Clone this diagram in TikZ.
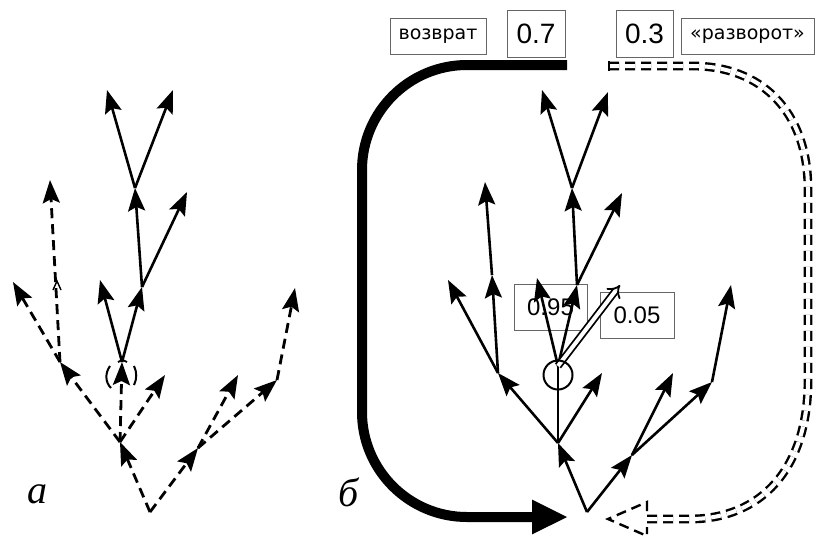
\documentclass[tikz,border=0pt]{standalone}
\usepackage{fontspec}
\usetikzlibrary{arrows.meta}
\newfontfamily\wordfont{DejaVu Sans}
\newfontfamily\digitfont{Liberation Sans}
\newfontfamily\letterfont{Liberation Serif}

\begin{document}
\begin{tikzpicture}[x=1pt,y=-1pt,
  tip/.style={-{Stealth[length=23pt,width=17pt,inset=4pt]}},
  br/.style={line width=2.6pt, tip},
  stem/.style={line width=2.6pt},
  dbr/.style={line width=2.8pt, dash pattern=on 10pt off 6pt, tip},
  tag/.style={draw=black!60, line width=0.9pt, inner sep=0pt},
  wordtag/.style={tag, minimum height=36pt, font=\wordfont\fontsize{19}{19}\selectfont},
  bignum/.style={tag, minimum height=47pt, font=\digitfont\fontsize{28}{28}\selectfont},
  smallnum/.style={tag, minimum height=46pt, font=\digitfont\fontsize{24}{24}\selectfont},
  panel/.style={font=\letterfont\itshape\fontsize{40}{40}\selectfont}
]
\useasboundingbox (0,0) rectangle (818,536);

% ---------- panel a: tree of moves ----------
\coordinate (a0) at (150,512);
\coordinate (a1) at (120,442);
\coordinate (a2) at (198,448);
\coordinate (b1) at (60,362);
\coordinate (b2) at (13,282);
\coordinate (b3) at (50,180);
\coordinate (c)  at (122,362);
\coordinate (c2) at (165,375);
\coordinate (c3) at (100,280);
\coordinate (d)  at (142,287);
\coordinate (d2) at (187,192);
\coordinate (e)  at (135,188);
\coordinate (e1) at (107,90);
\coordinate (e2) at (173,90);
\coordinate (f1) at (238,375);
\coordinate (f2) at (277,380);
\coordinate (f3) at (295,288);

\draw[dbr] (a0) -- (a1);
\draw[dbr] (a0) -- (a2);
\draw[dbr] (a1) -- (b1);
\draw[dbr] (b1) -- (b2);
\draw[dbr] (b1) -- (b3);
\draw[line width=1.4pt] (53,290) -- (57,281) -- (61,290);
\draw[dbr] (a1) -- (c);
\draw[dbr] (a1) -- (c2);
\draw[br] (c) -- (c3);
\draw[br] (c) -- (d);
\draw[br] (d) -- (e);
\draw[br] (d) -- (d2);
\draw[br] (e) -- (e1);
\draw[br] (e) -- (e2);
\draw[dbr] (a2) -- (f1);
\draw[dbr] (a2) -- (f2);
\draw[dbr] (f2) -- (f3);
% broken ring round the branching point
\draw[line width=2pt] (110,366) .. controls (105,373) and (105,382) .. (111,388);
\draw[line width=2pt] (134,366) .. controls (137,372) and (137,379) .. (134,385);
\draw[line width=1.8pt] (118,362) .. controls (121,360) and (124,360) .. (127,362);

\node[panel] (la) at (37,494) {а};

% ---------- panel b: tree with return ----------
\coordinate (r0) at (587,512);
\coordinate (r1) at (558,443);
\coordinate (r2) at (632,455);
\coordinate (s)  at (498,373);
\coordinate (s2) at (492,275);
\coordinate (s3) at (485,182);
\coordinate (s4) at (448,280);
\coordinate (o)  at (558,366);
\coordinate (o1) at (537,278);
\coordinate (t)  at (577,285);
\coordinate (o3) at (620,285);
\coordinate (p2) at (602,373);
\coordinate (u)  at (572,188);
\coordinate (t2) at (622,193);
\coordinate (u1) at (542,90);
\coordinate (u2) at (608,92);
\coordinate (q1) at (673,373);
\coordinate (w)  at (712,382);
\coordinate (w1) at (731,285);

\node[smallnum, minimum width=73pt] (p95) at (550.5,307.5) {0.95};
\node[smallnum, minimum width=74pt] (p05) at (637,315) {0.05};

\draw[br] (r0) -- (r1);
\draw[br] (r0) -- (r2);
\draw[br] (r1) -- (s);
\draw[stem] (r1) -- (o);
\draw[br] (r1) -- (p2);
\draw[br] (s) -- (s2);
\draw[br] (s2) -- (s3);
\draw[br] (s) -- (s4);
\draw[br] (o) -- (o1);
\draw[br] (o) -- (t);
\draw[line width=1.8pt, double, double distance=4pt, -{Implies}] (o) -- (o3);
\draw[br] (t) -- (u);
\draw[br] (t) -- (t2);
\draw[br] (u) -- (u1);
\draw[br] (u) -- (u2);
\draw[br] (r2) -- (q1);
\draw[br] (r2) -- (w);
\draw[br] (w) -- (w1);
\node[draw, circle, line width=2pt, minimum size=29pt, inner sep=0pt] (ring) at (558,375) {};

% return path, probability 0.7
\coordinate (g0) at (567,65);
\coordinate (g1) at (568,517);
\draw[line width=10pt, -{Triangle[length=36pt,width=32pt]}]
  (g0) -- (467,65) .. controls (409,65) and (362,112) .. (362,170)
  -- (362,412) .. controls (362,470) and (409,517) .. (467,517) -- (g1);

% turn-around path, probability 0.3
\coordinate (h0) at (609,66);
\coordinate (h1) at (647,519);
\coordinate (h2) at (608,519);
\draw[line width=2.4pt, dash pattern=on 10pt off 6pt, double, double distance=4pt]
  (h0) -- (693,66) .. controls (760,66) and (808,110) .. (808,190)
  -- (808,380) .. controls (808,470) and (760,519) .. (690,519) -- (h1);
\draw[line width=2.4pt] (609,61) -- (609,71);
\draw[line width=2.4pt, dash pattern=on 10pt off 6pt]
  (647,511) -- (647,502) -- (h2) -- (647,536) -- (647,527);

\node[wordtag, minimum width=96pt] (ret) at (438,36) {возврат};
\node[bignum, minimum width=58pt] (p7) at (536,33.5) {0.7};
\node[bignum, minimum width=57pt] (p3) at (644.5,33.5) {0.3};
\node[wordtag, minimum width=133pt] (turn) at (747.5,36) {«разворот»};

\node[panel] (lb) at (349,492) {б};
\end{tikzpicture}
\end{document}
